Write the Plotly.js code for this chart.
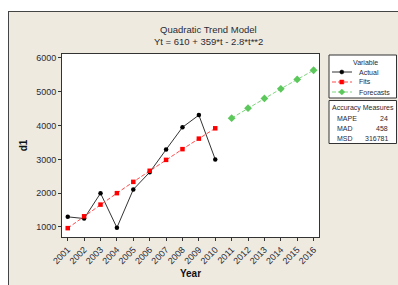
<!DOCTYPE html>
<html><head><meta charset="utf-8">
<script src="https://cdn.plot.ly/plotly-3.0.1.min.js"></script>
<style>html,body{margin:0;padding:0;background:#fff;}#chart{width:398px;height:285px;}</style>
</head><body><div id="chart"></div>
<script>
const years = [2001,2002,2003,2004,2005,2006,2007,2008,2009,2010];
const actual = [1300,1250,2000,980,2110,2620,3290,3950,4310,3000];
const fits = [966,1317,1662,2001,2335,2663,2986,3303,3614,3920];
const forecastYears = [2011,2012,2013,2014,2015,2016];
const forecasts = [4220,4515,4804,5087,5365,5637];
const tickYears = [2001,2002,2003,2004,2005,2006,2007,2008,2009,2010,2011,2012,2013,2014,2015,2016];
const accLabels = ['MAPE','MAD','MSD'];
const accValues = ['24','458','316781'];

const L=62,R=319,T=54,B=237;
const px = x => (x-L)/(R-L);
const py = y => (B-y)/(B-T);
const FONT = 'Liberation Sans, Arial, sans-serif';
const TXT = '#2a2a35';
const DASH = '4px,2px';

const traces = [
 {x:years,y:actual,mode:'lines+markers',name:'Actual',line:{color:'#333',width:1},marker:{color:'#000',size:4.5,symbol:'circle'}},
 {x:years,y:fits,mode:'lines+markers',name:'Fits',line:{color:'#ff4a4a',width:1,dash:DASH},marker:{color:'#ff0000',size:4.5,symbol:'square'}},
 {x:forecastYears,y:forecasts,mode:'lines+markers',name:'Forecasts',line:{color:'#80d480',width:1,dash:DASH},marker:{color:'#5cc85c',size:6,symbol:'diamond'}}
];

function P(x,y){return px(x)+','+py(y);}
const shapes = [
 {type:'rect',xref:'paper',yref:'paper',x0:px(-5),x1:px(8),y0:py(300),y1:py(-5),fillcolor:'#fff',line:{width:0},layer:'below'},
 {type:'rect',xref:'paper',yref:'paper',x0:px(-5),x1:px(405),y0:py(11),y1:py(-5),fillcolor:'#fff',line:{width:0},layer:'below'},
 {type:'line',xref:'paper',yref:'paper',x0:px(8.5),x1:px(8.5),y0:py(11),y1:py(300),line:{color:'#444',width:1}},
 {type:'line',xref:'paper',yref:'paper',x0:px(8),x1:px(405),y0:py(11.5),y1:py(11.5),line:{color:'#444',width:1}},
 {type:'rect',xref:'paper',yref:'paper',x0:px(329),x1:px(396.5),y0:py(98),y1:py(55),fillcolor:'#fff',line:{color:'#333',width:1}},
 {type:'rect',xref:'paper',yref:'paper',x0:px(329),x1:px(396.5),y0:py(143.5),y1:py(100.5),fillcolor:'#fff',line:{color:'#333',width:1}},
 {type:'line',xref:'paper',yref:'paper',x0:px(332),x1:px(352),y0:py(72),y1:py(72),line:{color:'#333',width:1}},
 {type:'line',xref:'paper',yref:'paper',x0:px(332),x1:px(352),y0:py(82),y1:py(82),line:{color:'#ff4a4a',width:1,dash:DASH}},
 {type:'line',xref:'paper',yref:'paper',x0:px(332),x1:px(352),y0:py(92),y1:py(92),line:{color:'#80d480',width:1,dash:DASH}},
 {type:'circle',xref:'paper',yref:'paper',x0:px(339.8),x1:px(343.8),y0:py(74),y1:py(70),fillcolor:'#000',line:{color:'#000',width:0.5}},
 {type:'rect',xref:'paper',yref:'paper',x0:px(339.8),x1:px(343.8),y0:py(84),y1:py(80),fillcolor:'#ff0000',line:{color:'#ff0000',width:0.5}},
 {type:'path',xref:'paper',yref:'paper',path:'M'+P(341.8,89)+'L'+P(344.8,92)+'L'+P(341.8,95)+'L'+P(338.8,92)+'Z',fillcolor:'#5cc85c',line:{color:'#5cc85c',width:0.5}}
];

const ann = [];
function A(text,x,y,opts){ann.push(Object.assign({text:text,xref:'paper',yref:'paper',x:px(x),y:py(y),xanchor:'center',yanchor:'middle',showarrow:false,font:{family:FONT,size:7,color:TXT}},opts||{}));}
A('Quadratic Trend Model',208.8,29,{font:{family:FONT,size:9.5,color:TXT}});
A('Yt = 610 + 359*t - 2.8*t**2',208.8,42,{font:{family:FONT,size:9.5,color:TXT}});
A('Variable',365.7,62);
A('Actual',356.5,72,{xanchor:'left'});
A('Fits',356.5,82,{xanchor:'left'});
A('Forecasts',356.5,92,{xanchor:'left'});
A('Accuracy Measures',362.5,108);
for(let i=0;i<accLabels.length;i++){
  A(accLabels[i],334.5,118+i*10,{xanchor:'left'});
  A(accValues[i],390,118+i*10,{xanchor:'right'});
}

const layout = {
 width:398,height:285,
 margin:{l:L,r:398-R,t:T,b:285-B,pad:0},
 paper_bgcolor:'#eeeae0',plot_bgcolor:'#fff',
 showlegend:false,
 font:{family:FONT,size:9,color:TXT},
 xaxis:{range:[2000.65,2016.33],tickvals:tickYears,ticktext:tickYears.map(String),tickangle:-45,
   ticks:'outside',ticklen:3,tickcolor:'#333',showline:true,linecolor:'#333',linewidth:1,mirror:true,showgrid:false,zeroline:false,
   tickfont:{family:FONT,size:9,color:TXT},
   title:{text:'<b>Year</b>',font:{family:FONT,size:10,color:'#111'},standoff:4}},
 yaxis:{range:[704,6118],tickvals:[1000,2000,3000,4000,5000,6000],
   ticks:'outside',ticklen:3,tickcolor:'#333',showline:true,linecolor:'#333',linewidth:1,mirror:true,showgrid:false,zeroline:false,
   tickfont:{family:FONT,size:9,color:TXT},
   title:{text:'<b>d1</b>',font:{family:FONT,size:10,color:'#111'},standoff:6}},
 shapes:shapes,
 annotations:ann
};
Plotly.newPlot('chart',traces,layout,{staticPlot:true,displayModeBar:false});
</script></body></html>
